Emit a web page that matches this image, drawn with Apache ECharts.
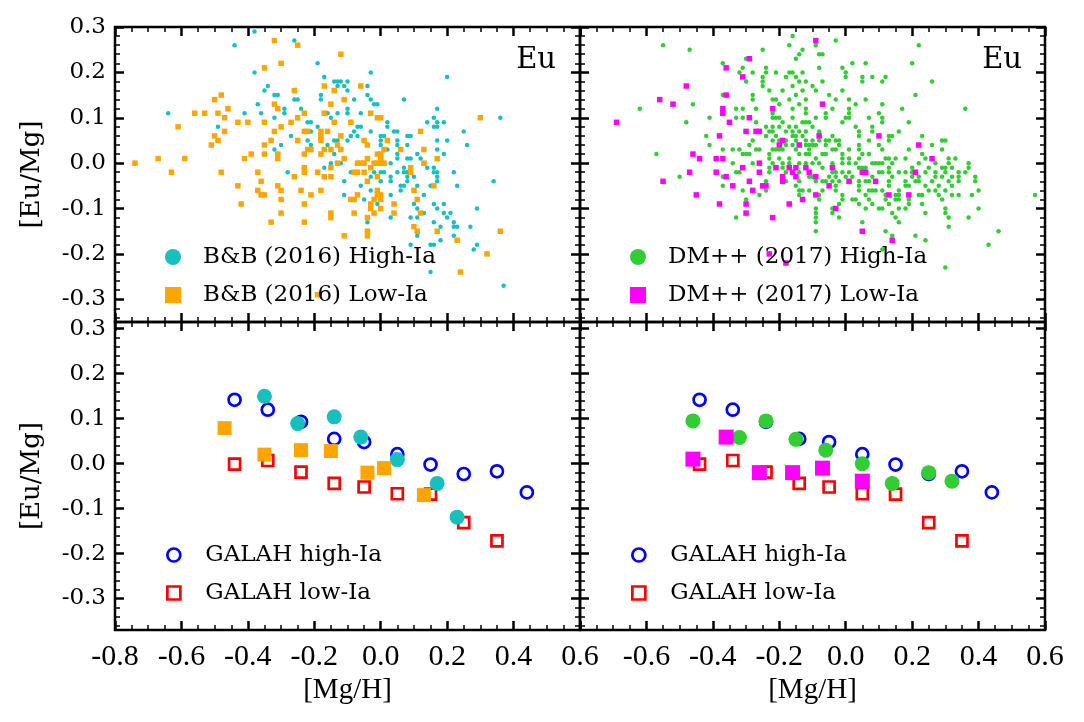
<!DOCTYPE html>
<html>
<head>
<meta charset="utf-8">
<script src="https://cdn.jsdelivr.net/npm/echarts@6/dist/echarts.min.js"></script>
<style>
  html, body { margin: 0; padding: 0; background: #fff; }
  #main { width: 1084px; height: 722px; }
</style>
</head>
<body>
<div id="main"></div>
<script>
// tick labels
const xTicks = [-0.8, -0.6, -0.4, -0.2, 0.0, 0.2, 0.4, 0.6];
const yTicks = [-0.3, -0.2, -0.1, 0.0, 0.1, 0.2, 0.3];

// top-left: B&B (2016) individual stars, flat x,y pairs
const bbHighTop = [
  -0.38,0.29, -0.26,0.27, -0.44,0.26, -0.19,0.22, -0.38,0.20, -0.17,0.19, -0.14,0.18, -0.13,0.18,
  -0.13,0.17, -0.34,0.17, -0.35,0.16, -0.32,0.15, -0.31,0.15, -0.18,0.15, -0.26,0.14, -0.25,0.14,
  -0.18,0.14, -0.37,0.13, -0.29,0.12, -0.24,0.12, -0.64,0.11, -0.41,0.11, -0.36,0.11, -0.29,0.11,
  -0.16,0.11, -0.13,0.11, -0.32,0.10, -0.15,0.10, -0.22,0.09, -0.21,0.09, -0.49,0.08, -0.19,0.08,
  -0.21,0.07, -0.27,0.06, -0.22,0.05, -0.14,0.05, -0.13,0.05, -0.30,0.04, -0.21,0.04, -0.16,0.04,
  -0.32,0.03, -0.14,0.02, -0.17,-0.01, -0.15,0.00,
  -0.03,0.20, 0.20,0.19, -0.12,0.18, -0.10,0.18, -0.11,0.17, -0.04,0.17, -0.10,0.16, -0.04,0.15,
  -0.08,0.14, -0.03,0.14, 0.07,0.14, -0.02,0.13, -0.01,0.13, -0.10,0.12, 0.17,0.12, -0.10,0.11,
  -0.06,0.11, 0.36,0.10, 0.16,0.10, 0.02,0.09, 0.14,0.09, 0.17,0.09, 0.19,0.09, -0.07,0.08,
  -0.06,0.08, 0.02,0.08, 0.16,0.08, 0.17,0.08, -0.03,0.07, 0.04,0.07, 0.05,0.07, -0.08,0.07,
  0.25,0.07, -0.09,0.06, -0.07,0.06, 0.00,0.06, 0.01,0.06, 0.08,0.06, 0.09,0.06, -0.10,0.05,
  0.00,0.05, 0.05,0.05, 0.17,0.05, 0.20,0.05, 0.00,0.04, 0.05,0.04, 0.08,0.04, 0.26,0.04,
  0.02,0.03, 0.17,0.03, 0.05,0.02, 0.11,0.02, 0.19,0.02, 0.05,0.01, 0.08,0.01, 0.09,0.01,
  0.12,0.01, -0.12,0.00, 0.03,0.00, 0.07,-0.01, 0.14,-0.01, 0.16,-0.01, -0.28,-0.02,
  -0.09,-0.02, -0.02,-0.02, 0.00,-0.02, 0.01,-0.02, 0.05,-0.02, 0.07,-0.02, 0.08,-0.02, 0.16,-0.02,
  0.17,-0.02, 0.22,-0.02, -0.03,-0.03, 0.03,-0.03, 0.08,-0.03, 0.10,-0.03, 0.17,-0.03,
  -0.11,-0.04, 0.00,-0.04, 0.03,-0.04, 0.08,-0.04, 0.17,-0.04, 0.34,-0.04,
  -0.06,-0.05, 0.06,-0.05, 0.07,-0.05, 0.11,-0.05, 0.15,-0.05, 0.23,-0.05, -0.03,-0.06, 0.06,-0.06,
  -0.11,-0.07, 0.03,-0.07, 0.13,-0.07, -0.05,-0.08, -0.01,-0.09, 0.10,-0.09, 0.16,-0.09, 0.19,-0.09,
  0.11,-0.10, 0.17,-0.10, 0.29,-0.10, 0.13,-0.11, 0.19,-0.11, 0.21,-0.11, 0.03,-0.12, 0.09,-0.12,
  0.11,-0.12, 0.20,-0.12, -0.04,-0.13, 0.16,-0.13, 0.22,-0.13, 0.18,-0.14, 0.22,-0.14, 0.23,-0.14,
  0.27,-0.14, 0.11,-0.16, 0.22,-0.16, 0.18,-0.17, 0.09,-0.18, 0.15,-0.18, 0.16,-0.18, 0.29,-0.18,
  0.28,-0.19, 0.15,-0.24, 0.37,-0.27
];
const bbLowTop = [
  -0.32,0.27, -0.25,0.26, -0.30,0.22, -0.35,0.21, -0.17,0.17, -0.26,0.16, -0.14,0.16, -0.48,0.15,
  -0.50,0.14, -0.32,0.13, -0.15,0.13, -0.46,0.12, -0.31,0.12, -0.56,0.11, -0.53,0.11, -0.49,0.11,
  -0.23,0.11, -0.17,0.11, -0.47,0.10, -0.25,0.10, -0.43,0.09, -0.40,0.09, -0.35,0.09, -0.27,0.09,
  -0.14,0.09, -0.61,0.08, -0.30,0.08, -0.47,0.07, -0.32,0.07, -0.23,0.07, -0.22,0.07, -0.18,0.07,
  -0.16,0.07, -0.50,0.06, -0.18,0.06, -0.49,0.05, -0.33,0.05, -0.25,0.05, -0.18,0.05, -0.51,0.04,
  -0.35,0.04, -0.13,0.04, -0.22,0.03, -0.21,0.03, -0.17,0.03, -0.15,0.03, -0.39,0.02, -0.35,0.02,
  -0.31,0.02, -0.23,0.02, -0.18,0.02, -0.74,0.00, -0.67,0.01, -0.59,0.01, -0.41,0.01, -0.31,0.01,
  -0.23,-0.01, -0.15,-0.01, -0.13,0.00,
  -0.12,0.24, -0.06,0.17, -0.11,0.14, -0.03,0.11, -0.01,0.10, 0.00,0.10, 0.30,0.10, -0.09,0.09,
  0.12,0.07, -0.12,0.06, 0.02,0.05, -0.05,0.05, -0.04,0.04, -0.12,0.03, 0.01,0.03, 0.06,0.03,
  0.13,0.03, -0.01,0.02, 0.00,0.02, -0.11,0.01, -0.04,0.01, 0.00,0.01, 0.17,0.01, -0.07,0.00,
  -0.06,0.00, -0.05,0.00, -0.02,0.00, -0.01,0.00, 0.00,0.00, 0.01,0.00, 0.13,0.00, -0.03,-0.01,
  0.09,-0.01,
  -0.63,-0.02, -0.48,-0.02, -0.37,-0.02, -0.23,-0.02, -0.19,-0.02, -0.26,-0.03, -0.17,-0.03, -0.15,-0.03,
  -0.43,-0.05, -0.36,-0.04, -0.31,-0.05, -0.37,-0.06, -0.36,-0.07, -0.35,-0.07, -0.30,-0.06, -0.24,-0.06,
  -0.18,-0.06, -0.21,-0.07, -0.30,-0.08, -0.42,-0.09, -0.23,-0.09, -0.15,-0.11, -0.15,-0.12, -0.30,-0.11,
  -0.33,-0.13, -0.23,-0.13, -0.19,-0.29,
  -0.08,-0.02, -0.07,-0.02, -0.05,-0.02, 0.09,-0.02, -0.01,-0.03, -0.04,-0.04, 0.16,-0.05, -0.01,-0.06,
  0.10,-0.06, -0.07,-0.07, -0.01,-0.07, 0.00,-0.07, -0.09,-0.08, -0.08,-0.08, -0.02,-0.08, 0.00,-0.08,
  0.11,-0.08, -0.03,-0.09, 0.04,-0.09, -0.03,-0.10, 0.00,-0.10, -0.08,-0.11, -0.02,-0.11, 0.04,-0.11,
  0.12,-0.11, -0.04,-0.12, 0.10,-0.14, -0.11,-0.16, -0.04,-0.15, -0.04,-0.16, 0.11,-0.15, 0.17,-0.15,
  0.36,-0.15, 0.23,-0.17, 0.32,-0.20, 0.24,-0.24
];

// top-right: DM++ (2017) individual stars, flat x,y pairs
const dmHighTop = [
  -0.16,0.28, -0.17,0.26, -0.09,0.26, -0.55,0.26, -0.47,0.25, -0.25,0.25, -0.14,0.24, -0.13,0.25,
  -0.30,0.23, -0.15,0.23, -0.37,0.22, -0.31,0.21, -0.24,0.21,
  -0.32,0.20, -0.28,0.20, -0.24,0.20, -0.21,0.20, -0.17,0.20, -0.16,0.20, -0.13,0.20,
  -0.25,0.19, -0.18,0.19, -0.15,0.19, -0.30,0.18, -0.25,0.18, -0.14,0.18, -0.12,0.18,
  -0.25,0.17, -0.16,0.17, -0.10,0.17, -0.23,0.16, -0.19,0.16, -0.13,0.16, -0.09,0.16,
  -0.37,0.15, -0.28,0.15, -0.15,0.15, -0.28,0.14, -0.22,0.14, -0.21,0.14, -0.17,0.14, -0.12,0.14,
  -0.46,0.13, -0.20,0.13, -0.14,0.13, -0.62,0.12, -0.33,0.12, -0.31,0.12, -0.27,0.12, -0.16,0.12,
  -0.12,0.12, -0.22,0.11, -0.12,0.11,
  -0.41,0.10, -0.33,0.10, -0.31,0.10, -0.22,0.10, -0.21,0.10, -0.20,0.10, -0.16,0.10, -0.09,0.10,
  -0.48,0.09, -0.27,0.09, -0.19,0.09, -0.13,0.09, -0.12,0.09, -0.11,0.09,
  -0.24,0.08, -0.22,0.08, -0.20,0.08, -0.17,0.08, -0.15,0.08, -0.10,0.08,
  -0.23,0.07, -0.22,0.07, -0.18,0.07, -0.16,0.07, -0.14,0.07, -0.12,0.07,
  -0.42,0.06, -0.24,0.06, -0.21,0.06, -0.16,0.06, -0.15,0.06, -0.13,0.06,
  -0.28,0.05, -0.22,0.05, -0.20,0.05, -0.18,0.05, -0.15,0.05, -0.12,0.05, -0.10,0.05,
  -0.41,0.04, -0.29,0.04, -0.18,0.04, -0.16,0.04, -0.12,0.04, -0.11,0.04, -0.10,0.04, -0.09,0.04,
  -0.37,0.03, -0.34,0.03, -0.32,0.03, -0.27,0.03, -0.26,0.03, -0.22,0.03, -0.21,0.03, -0.20,0.03,
  -0.19,0.03, -0.15,0.03, -0.11,0.03,
  -0.57,0.02, -0.31,0.02, -0.30,0.02, -0.29,0.02, -0.23,0.02, -0.14,0.02, -0.12,0.02, -0.11,0.02,
  -0.23,0.01, -0.20,0.01, -0.17,0.01, -0.09,0.01,
  -0.34,0.00, -0.28,0.00, -0.22,0.00, -0.19,0.00, -0.17,0.00, -0.14,0.00, -0.12,0.00, -0.10,0.00,
  -0.23,-0.01, -0.19,-0.01,
  -0.03,0.27, 0.22,0.26, -0.08,0.24, -0.07,0.24, 0.02,0.22, 0.06,0.22, 0.20,0.22, -0.08,0.21,
  -0.01,0.21, 0.00,0.20, 0.00,0.19, 0.05,0.19, 0.08,0.19, 0.12,0.19, -0.07,0.18, 0.05,0.18,
  0.11,0.18, 0.26,0.18, -0.01,0.16, -0.05,0.15, 0.21,0.15, -0.03,0.14, 0.01,0.14, 0.06,0.14,
  0.03,0.13, 0.11,0.13, -0.04,0.12, 0.01,0.12, 0.17,0.12, 0.36,0.12, -0.06,0.11, 0.01,0.11,
  0.10,0.11, -0.06,0.10, 0.00,0.10, 0.01,0.10, 0.07,0.10, 0.11,0.10, -0.01,0.09, 0.11,0.09,
  0.19,0.09, 0.03,0.08, 0.08,0.08, -0.08,0.07, 0.04,0.07, 0.08,0.07, 0.16,0.07,
  -0.04,0.06, 0.04,0.06, 0.13,0.06, 0.14,0.06, 0.23,0.06,
  -0.08,0.05, -0.06,0.05, -0.05,0.05, -0.03,0.05, -0.02,0.05, 0.07,0.05, 0.13,0.05, 0.29,0.05, 0.30,0.05,
  -0.06,0.04, -0.02,0.04, 0.04,0.04, 0.10,0.04, 0.26,0.04,
  -0.04,0.03, -0.03,0.03, 0.01,0.03, 0.04,0.03, 0.11,0.03, 0.19,0.03, 0.29,0.03,
  -0.07,0.02, -0.06,0.02, -0.01,0.02, 0.05,0.02, 0.07,0.02, 0.23,0.02,
  -0.01,0.01, 0.01,0.01, 0.04,0.01, 0.12,0.01, 0.13,0.01, 0.15,0.01, 0.18,0.01, 0.24,0.01, 0.31,0.01, 0.33,0.01,
  -0.08,0.00, -0.04,0.00, -0.01,0.00, 0.01,0.00, 0.03,0.00, 0.08,0.00, 0.09,0.00, 0.10,0.00,
  0.11,0.00, 0.14,0.00, 0.22,0.00, 0.27,0.00, 0.31,0.00, 0.37,0.00,
  -0.07,-0.01, 0.04,-0.01, 0.05,-0.01, 0.06,-0.01, 0.13,-0.01, 0.20,-0.01, 0.25,-0.01, 0.29,-0.01,
  0.30,-0.01, 0.32,-0.01, 0.37,-0.01,
  -0.50,-0.03, -0.37,-0.03, -0.33,-0.02, -0.32,-0.02, -0.23,-0.02, -0.18,-0.02, -0.14,-0.02,
  -0.11,-0.03, -0.10,-0.03, -0.24,-0.04, -0.18,-0.04, -0.14,-0.04, -0.09,-0.04, -0.37,-0.05,
  -0.15,-0.05, -0.31,-0.06, -0.24,-0.06, -0.14,-0.06, -0.13,-0.06, -0.11,-0.06, -0.26,-0.07,
  -0.14,-0.07, -0.30,-0.08, -0.09,-0.10, -0.09,-0.11, -0.33,-0.12, -0.09,-0.12, -0.09,-0.13,
  -0.09,-0.15,
  -0.04,-0.02, -0.03,-0.02, -0.01,-0.02, 0.01,-0.02, 0.10,-0.02, 0.11,-0.02, 0.13,-0.02, 0.16,-0.02,
  0.18,-0.02, 0.20,-0.02, 0.24,-0.02, 0.27,-0.02, 0.30,-0.02, 0.34,-0.02, 0.36,-0.02,
  -0.05,-0.03, -0.03,-0.03, 0.00,-0.03, 0.02,-0.03, 0.08,-0.03, 0.14,-0.03, 0.20,-0.03, 0.22,-0.03,
  0.27,-0.03, 0.29,-0.03, 0.32,-0.03, 0.34,-0.03, 0.39,-0.03,
  -0.07,-0.04, -0.06,-0.04, -0.04,-0.04, -0.02,-0.04, 0.04,-0.04, 0.06,-0.04, 0.07,-0.04, 0.13,-0.04,
  0.18,-0.04, 0.21,-0.04, 0.22,-0.04, 0.26,-0.04, 0.31,-0.04, 0.34,-0.04, 0.39,-0.04,
  -0.03,-0.05, 0.04,-0.05, 0.13,-0.05, 0.18,-0.05, 0.19,-0.05, 0.24,-0.05, 0.28,-0.05, 0.32,-0.05,
  -0.07,-0.06, -0.03,-0.06, 0.04,-0.06, 0.07,-0.06, 0.08,-0.06, 0.09,-0.06, 0.11,-0.06, 0.16,-0.06,
  0.25,-0.06, 0.27,-0.06, 0.30,-0.06, 0.40,-0.06,
  -0.08,-0.07, -0.01,-0.07, 0.06,-0.07, 0.12,-0.07, 0.15,-0.07, 0.16,-0.07, 0.22,-0.07, 0.23,-0.07,
  0.28,-0.07, 0.32,-0.07, 0.34,-0.07, 0.38,-0.07, 0.57,-0.07,
  -0.08,-0.08, -0.01,-0.08, 0.02,-0.08, 0.03,-0.08, 0.07,-0.08, 0.12,-0.08, 0.15,-0.08, 0.16,-0.08,
  0.19,-0.08, 0.29,-0.08,
  -0.02,-0.09, 0.04,-0.09, 0.08,-0.09, 0.13,-0.09, 0.19,-0.09, 0.23,-0.09,
  -0.04,-0.10, 0.06,-0.10, 0.10,-0.10, 0.11,-0.10, 0.16,-0.10, 0.18,-0.10, 0.30,-0.10, 0.40,-0.10,
  -0.04,-0.11, 0.14,-0.11, 0.24,-0.11, 0.30,-0.11, -0.02,-0.12, 0.15,-0.12, 0.31,-0.12, 0.37,-0.12,
  0.05,-0.13, 0.16,-0.13, 0.31,-0.14, 0.12,-0.15, 0.46,-0.15, 0.21,-0.16, 0.14,-0.16, 0.24,-0.17,
  0.43,-0.18, 0.11,-0.19, 0.30,-0.23
];
const dmLowTop = [
  -0.09,0.27, -0.29,0.23, -0.36,0.21, -0.31,0.19, -0.48,0.17, -0.36,0.15, -0.56,0.14, -0.52,0.13,
  -0.37,0.12, -0.22,0.12, -0.37,0.11, -0.29,0.10, -0.69,0.09, -0.35,0.09, -0.30,0.07, -0.27,0.07,
  -0.26,0.07, -0.38,0.06, -0.08,0.06, -0.19,0.05, -0.20,0.04, -0.14,0.04, -0.46,0.02, -0.44,0.01,
  -0.39,0.01, -0.37,0.01, -0.26,0.00, -0.31,-0.01, -0.21,-0.01, -0.17,-0.01, -0.15,-0.01, -0.12,-0.01,
  -0.07,0.13, 0.10,0.06, 0.22,0.04, 0.26,0.01, -0.04,-0.01,
  -0.47,-0.02, -0.39,-0.02, -0.36,-0.03, -0.26,-0.02, -0.19,-0.03, -0.19,-0.04, -0.16,-0.02, -0.15,-0.03,
  -0.11,-0.02, -0.09,-0.03, -0.55,-0.04, -0.34,-0.05, -0.25,-0.05, -0.24,-0.05, -0.29,-0.04, -0.28,-0.06,
  -0.45,-0.07, -0.09,-0.07, -0.13,-0.08, -0.38,-0.09, -0.30,-0.09, -0.17,-0.09, -0.30,-0.11, -0.22,-0.12,
  -0.23,-0.20, -0.18,-0.22,
  0.05,-0.02, 0.06,-0.02, 0.21,-0.02, 0.01,-0.04, 0.09,-0.04, -0.05,-0.05, 0.13,-0.07, 0.19,-0.07,
  -0.03,-0.10, 0.05,-0.15, 0.14,-0.17
];

// bottom panels: binned trends
const galahHighX = [-0.44, -0.34, -0.24, -0.14, -0.05, 0.05, 0.15, 0.25, 0.35, 0.44];
const galahHighY = [0.142, 0.120, 0.093, 0.055, 0.048, 0.021, -0.002, -0.023, -0.017, -0.064];
const galahLowX = [-0.44, -0.34, -0.24, -0.14, -0.05, 0.05, 0.15, 0.25, 0.35];
const galahLowY = [-0.001, 0.007, -0.019, -0.044, -0.052, -0.067, -0.068, -0.131, -0.172];
const bbHighBinX = [-0.35, -0.25, -0.14, -0.06, 0.05, 0.17, 0.23];
const bbHighBinY = [0.150, 0.089, 0.104, 0.059, 0.009, -0.044, -0.119];
const bbLowBinX = [-0.47, -0.35, -0.24, -0.15, -0.04, 0.01, 0.13];
const bbLowBinY = [0.079, 0.020, 0.030, 0.028, -0.020, -0.010, -0.070];
const dmHighBinX = [-0.46, -0.32, -0.24, -0.15, -0.06, 0.05, 0.14, 0.25, 0.32];
const dmHighBinY = [0.095, 0.058, 0.095, 0.054, 0.030, 0.000, -0.044, -0.020, -0.039];
const dmLowBinX = [-0.46, -0.36, -0.26, -0.16, -0.07, 0.05];
const dmLowBinY = [0.010, 0.059, -0.020, -0.020, -0.010, -0.039];

const CYAN = '#17bfbf', ORANGE = '#ffa500', GREEN = '#32cd32', MAGENTA = '#ff00ff';
const BLUE = '#0000ff', RED = '#ff0000';

function pairs(flat) {
  const out = [];
  for (let i = 0; i < flat.length; i += 2) out.push([flat[i], flat[i + 1]]);
  return out;
}
function zip(xs, ys) {
  return xs.map((x, i) => [x, ys[i]]);
}
function fmt(v) {
  return (Math.abs(v) < 1e-9 ? 0 : v).toFixed(1);
}
// minor ticks every 0.02 between the 0.1 majors
function minorList(kLo, kHi) {
  const out = [];
  for (let k = kLo; k <= kHi; k++) if (k % 5 !== 0) out.push(+(k * 0.02).toFixed(2));
  return out;
}

const grids = [
  { left: 115, top: 27, width: 465, height: 295 },
  { left: 580, top: 27, width: 465, height: 295 },
  { left: 115, top: 322, width: 465, height: 308 },
  { left: 580, top: 322, width: 465, height: 308 }
];
const yRange = [[-0.35, 0.30], [-0.35, 0.30], [-0.37, 0.315], [-0.37, 0.315]];
const yMinor = [minorList(-17, 14), minorList(-17, 14), minorList(-18, 15), minorList(-18, 15)];

const majorTick = { inside: true, length: 9, lineStyle: { color: '#000', width: 2.5 } };
const minorTickStyle = { length: 5, lineStyle: { color: '#000', width: 1.5 } };

let xAxis = [], yAxis = [];
grids.forEach(function (g, gi) {
  const bottomRow = gi >= 2;
  const leftCol = gi % 2 === 0;
  const xBase = {
    type: 'value', gridIndex: gi, min: -0.8, max: 0.6, interval: 0.2,
    axisLine: { show: false, onZero: false },
    splitLine: { show: false },
    axisTick: majorTick,
    minorTick: Object.assign({ show: true, splitNumber: 4 }, minorTickStyle)
  };
  xAxis.push(Object.assign({}, xBase, {
    position: 'bottom',
    axisLabel: {
      show: bottomRow, showMinLabel: leftCol, formatter: fmt, margin: 12,
      fontFamily: 'Liberation Serif', fontSize: 30, color: '#000'
    },
    name: bottomRow ? '[Mg/H]' : '',
    nameLocation: 'middle', nameGap: 46,
    nameTextStyle: { fontFamily: 'Liberation Serif', fontSize: 29, color: '#000' }
  }));
  xAxis.push(Object.assign({}, xBase, { position: 'top', axisLabel: { show: false } }));

  const yBase = {
    type: 'value', gridIndex: gi, min: yRange[gi][0], max: yRange[gi][1],
    axisLine: { show: false, onZero: false },
    splitLine: { show: false },
    axisLabel: { show: false }
  };
  const major = Object.assign({ customValues: yTicks }, majorTick);
  const minor = Object.assign({ inside: true, customValues: yMinor[gi] }, minorTickStyle);
  yAxis.push(Object.assign({}, yBase, {
    position: 'left', axisTick: major,
    axisLabel: leftCol ? {
      show: true, customValues: yTicks, formatter: fmt, margin: 9,
      fontFamily: 'DejaVu Serif', fontSize: 23, color: '#000'
    } : { show: false },
    name: leftCol ? '[Eu/Mg]' : '',
    nameLocation: 'middle', nameGap: 70,
    nameTextStyle: { fontFamily: 'DejaVu Serif', fontSize: 26, color: '#000' }
  }));
  yAxis.push(Object.assign({}, yBase, { position: 'left', axisTick: minor }));
  yAxis.push(Object.assign({}, yBase, { position: 'right', axisTick: major }));
  yAxis.push(Object.assign({}, yBase, { position: 'right', axisTick: minor }));
});

function sc(name, gi, data, symbol, size, style) {
  return {
    type: 'scatter', name: name, xAxisIndex: 2 * gi, yAxisIndex: 4 * gi,
    data: data, symbol: symbol, symbolSize: size,
    itemStyle: Object.assign({ opacity: 1 }, style),
    silent: true
  };
}
const hollowBlue = { color: 'rgba(0,0,0,0)', borderColor: BLUE, borderWidth: 2.7 };
const hollowRed = { color: 'rgba(0,0,0,0)', borderColor: RED, borderWidth: 2.7 };

const series = [
  sc('B&B (2016) High-Ia', 0, pairs(bbHighTop), 'circle', 4.5, { color: CYAN }),
  sc('B&B (2016) Low-Ia', 0, pairs(bbLowTop), 'rect', 5.5, { color: ORANGE }),
  sc('DM++ (2017) High-Ia', 1, pairs(dmHighTop), 'circle', 4.5, { color: GREEN }),
  sc('DM++ (2017) Low-Ia', 1, pairs(dmLowTop), 'rect', 5.5, { color: MAGENTA }),
  sc('GALAH high-Ia', 2, zip(galahHighX, galahHighY), 'circle', 12, hollowBlue),
  sc('GALAH low-Ia', 2, zip(galahLowX, galahLowY), 'rect', 11, hollowRed),
  sc('B&B (2016) High-Ia', 2, zip(bbHighBinX, bbHighBinY), 'circle', 15, { color: CYAN }),
  sc('B&B (2016) Low-Ia', 2, zip(bbLowBinX, bbLowBinY), 'rect', 14, { color: ORANGE }),
  sc('GALAH high-Ia', 3, zip(galahHighX, galahHighY), 'circle', 12, hollowBlue),
  sc('GALAH low-Ia', 3, zip(galahLowX, galahLowY), 'rect', 11, hollowRed),
  sc('DM++ (2017) High-Ia', 3, zip(dmHighBinX, dmHighBinY), 'circle', 15, { color: GREEN }),
  sc('DM++ (2017) Low-Ia', 3, zip(dmLowBinX, dmLowBinY), 'rect', 15, { color: MAGENTA })
];

function legendBlock(left, top, size, pad, items) {
  return {
    orient: 'vertical', left: left, top: top, itemWidth: size, itemHeight: size, itemGap: 12,
    selectedMode: false,
    textStyle: { fontFamily: 'DejaVu Serif', fontSize: 23, color: '#000', lineHeight: 26, padding: [0, 0, 0, pad] },
    data: items.map(function (it) {
      return { name: it[0], icon: it[1], itemStyle: Object.assign({ opacity: 1, borderWidth: 0 }, it[2]) };
    })
  };
}

const chart = echarts.init(document.getElementById('main'));
chart.setOption({
  animation: false,
  backgroundColor: '#fff',
  grid: grids.map(g => Object.assign({ show: true, borderColor: '#000', borderWidth: 2.5, backgroundColor: 'transparent' }, g)),
  xAxis: xAxis,
  yAxis: yAxis,
  legend: [
    legendBlock(160, 239, 16, 17, [['B&B (2016) High-Ia', 'circle', { color: CYAN }], ['B&B (2016) Low-Ia', 'rect', { color: ORANGE }]]),
    legendBlock(625, 239, 16, 17, [['DM++ (2017) High-Ia', 'circle', { color: GREEN }], ['DM++ (2017) Low-Ia', 'rect', { color: MAGENTA }]]),
    legendBlock(161, 537, 13, 20, [['GALAH high-Ia', 'circle', hollowBlue], ['GALAH low-Ia', 'rect', hollowRed]]),
    legendBlock(626, 537, 13, 20, [['GALAH high-Ia', 'circle', hollowBlue], ['GALAH low-Ia', 'rect', hollowRed]])
  ],
  graphic: [
    { type: 'text', right: 528, top: 46, style: { text: 'Eu', font: '29px "DejaVu Serif"', fill: '#000' } },
    { type: 'text', right: 62, top: 46, style: { text: 'Eu', font: '29px "DejaVu Serif"', fill: '#000' } }
  ],
  series: series
});
window.addEventListener('resize', () => chart.resize());
</script>
</body>
</html>
